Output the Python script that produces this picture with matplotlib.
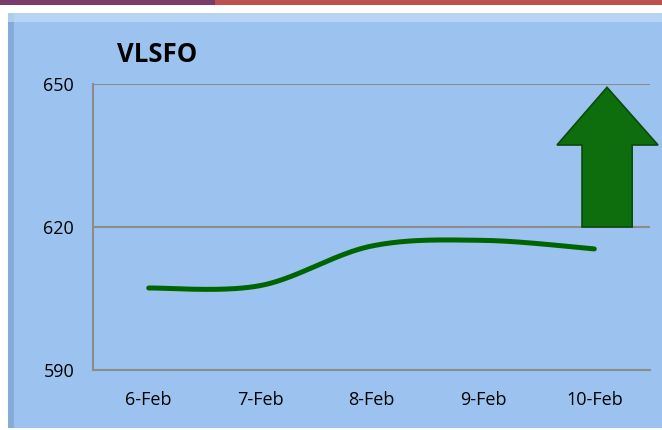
import matplotlib
matplotlib.use("Agg")
import matplotlib.pyplot as plt
import numpy as np
from matplotlib.patches import Rectangle, Polygon

categories = ["6-Feb", "7-Feb", "8-Feb", "9-Feb", "10-Feb"]
values = [607.2, 607.7, 616.0, 617.2, 615.4]
yticks = [590, 620, 650]
title = "VLSFO"

plt.rcParams['font.family'] = ['Open Sans', 'DejaVu Sans']

W, H = 662, 430
fig = plt.figure(figsize=(W/100, H/100), dpi=100)
fig.patch.set_facecolor("white")

blue = "#9cc3f0"
# panel
fig.patches.append(Rectangle((8/W, 2/H), 1 - 8/W, (428-13)/H, transform=fig.transFigure,
                             facecolor=blue, edgecolor="none", zorder=-10))
# bevel left / top
fig.patches.append(Rectangle((8/W, 2/H), 6/W, (428-13)/H, transform=fig.transFigure,
                             facecolor="#7a9cc8", edgecolor="none", zorder=-9, alpha=0.6))
fig.patches.append(Rectangle((8/W, (430-22)/H), 1 - 8/W, 9/H, transform=fig.transFigure,
                             facecolor="#c4dcf7", edgecolor="none", zorder=-9, alpha=0.7))
# top red strip (darker left section)
fig.patches.append(Rectangle((0, (430-5)/H), 1, 5/H, transform=fig.transFigure,
                             facecolor="#c0504d", edgecolor="none", zorder=-9))
fig.patches.append(Rectangle((0, (430-5)/H), 215/W, 5/H, transform=fig.transFigure,
                             facecolor="#7a3b6a", edgecolor="none", zorder=-8))

ax = fig.add_axes([93/W, 60/H, 557/W, (370-84)/H])
ax.set_zorder(5)
ax.set_facecolor(blue)
ax.patch.set_alpha(0)
ax.set_xlim(-0.5, len(categories) - 0.5)
ax.set_ylim(590, 650)

ax.set_yticks(yticks)
ax.set_yticklabels([str(v) for v in yticks], fontsize=13)
ax.set_xticks(range(len(categories)))
ax.set_xticklabels(categories, fontsize=13)
ax.tick_params(axis='x', length=0, pad=15)
ax.tick_params(axis='y', length=0, pad=13.5)

for s in ["top", "right"]:
    ax.spines[s].set_visible(False)
for s in ["left", "bottom"]:
    ax.spines[s].set_color("#8c8c8c")
    ax.spines[s].set_linewidth(1.5)
for v in yticks[1:]:
    ax.axhline(v, color="#8c8c8c", lw=1.5, zorder=1)

# smooth line (Catmull-Rom through the data points)
x = np.arange(len(values), dtype=float)
y = np.array(values, dtype=float)
px = np.concatenate([[x[0]], x, [x[-1]]])
py = np.concatenate([[y[0]], y, [y[-1]]])
xs, ys = [], []
for i in range(1, len(px) - 2):
    t = np.linspace(0, 1, 40)
    for arr, out in ((px, xs), (py, ys)):
        p0, p1, p2, p3 = arr[i-1], arr[i], arr[i+1], arr[i+2]
        out.extend(0.5 * ((2*p1) + (-p0 + p2)*t + (2*p0 - 5*p1 + 4*p2 - p3)*t**2
                          + (-p0 + 3*p1 - 3*p2 + p3)*t**3))
ax.plot(xs, ys, color="#006400", lw=3.6, solid_capstyle="round", zorder=3)

# up arrow
arrow = [(3.89, 620), (4.34, 620), (4.34, 637.2), (4.572, 637.2),
         (4.114, 649.3), (3.665, 637.2), (3.89, 637.2)]
ax.add_patch(Polygon(arrow, closed=True, facecolor="#0e6e0e", edgecolor="#0a4a0a",
                     lw=1.2, zorder=4, clip_on=False))

fig.text(117/W, 1 - 55/H, title, fontsize=18.5, fontweight="bold", va="center", ha="left")

fig.savefig("out.png", dpi=100, facecolor=fig.get_facecolor())
